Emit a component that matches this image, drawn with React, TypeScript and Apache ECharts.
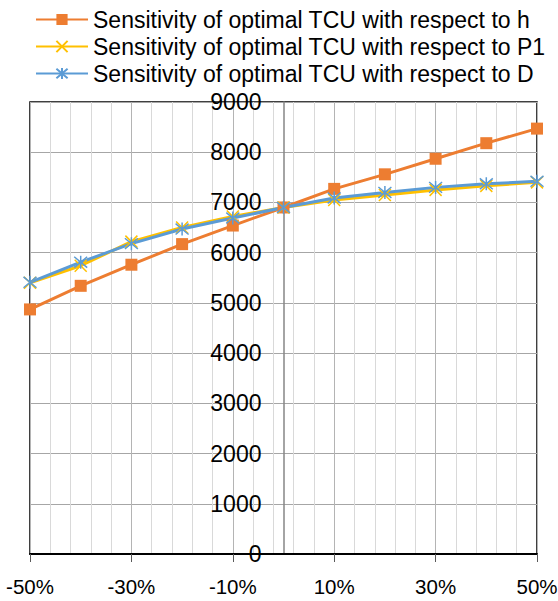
import React, { useEffect, useRef } from "react";
import * as echarts from "echarts";

const xValues = [-50, -40, -30, -20, -10, 0, 10, 20, 30, 40, 50];
const hValues = [4870, 5340, 5760, 6170, 6540, 6900, 7270, 7560, 7870, 8180, 8470];
const p1Values = [5400, 5740, 6220, 6500, 6720, 6900, 7050, 7150, 7250, 7330, 7400];
const dValues = [5410, 5810, 6180, 6470, 6690, 6900, 7090, 7200, 7300, 7370, 7420];
const seriesNames = [
  "Sensitivity of optimal TCU with respect to h",
  "Sensitivity of optimal TCU with respect to P1",
  "Sensitivity of optimal TCU with respect to D",
];

const FONT = "Liberation Sans";
const X_MARK = "path://M0,0L10,10M10,0L0,10";
const STAR_MARK = "path://M0,0L10,10M10,0L0,10M5,-1L5,11";

const GRID_LEFT = 30;
const GRID_RIGHT = 21;
const WIDTH = 558;
const HEIGHT = 601;

export default function App() {
  const ref = useRef<HTMLDivElement>(null);
  useEffect(() => {
    if (!ref.current) return;
    const chart = echarts.init(ref.current, undefined, { renderer: "svg" });
    const pair = (ys: number[]) => xValues.map((x, i) => [x, ys[i]]);
    const plotWidth = WIDTH - GRID_LEFT - GRID_RIGHT;
    chart.setOption({
      animation: false,
      textStyle: { fontFamily: FONT },
      legend: {
        orient: "vertical",
        left: 30,
        top: 3,
        itemWidth: 52,
        itemHeight: 14,
        itemGap: 4,
        textStyle: { fontFamily: FONT, fontSize: 23, color: "#000" },
        data: seriesNames,
      },
      grid: {
        left: GRID_LEFT,
        right: GRID_RIGHT,
        top: 102,
        bottom: 47,
        show: true,
        borderColor: "#000",
        borderWidth: 1.5,
        containLabel: false,
        outerBoundsMode: "none",
      },
      xAxis: {
        type: "value",
        min: -50,
        max: 50,
        interval: 20,
        axisLine: { onZero: false, lineStyle: { color: "#000", width: 2 } },
        axisTick: { show: true, length: 8, lineStyle: { color: "#595959", width: 1 } },
        axisLabel: {
          formatter: (v: number) => `${v}%`,
          fontFamily: FONT,
          fontSize: 20.5,
          color: "#000",
          margin: 22,
        },
        splitLine: { show: true, lineStyle: { color: "#b4b4b4", width: 1 } },
        minorTick: { show: false, splitNumber: 5 },
        minorSplitLine: { show: true, lineStyle: { color: "#d9d9d9", width: 1 } },
      },
      yAxis: {
        type: "value",
        min: 0,
        max: 9000,
        interval: 1000,
        position: "left",
        offset: -plotWidth / 2,
        axisLine: { show: true, onZero: false, lineStyle: { color: "#868686", width: 1.5 } },
        axisTick: { show: false },
        axisLabel: {
          formatter: (v: number) => String(v),
          fontFamily: FONT,
          fontSize: 23,
          color: "#000",
          margin: 22,
        },
        splitLine: { show: true, lineStyle: { color: "#a6a6a6", width: 1 } },
      },
      series: [
        {
          name: seriesNames[0],
          type: "line",
          data: pair(hValues),
          symbol: "rect",
          symbolSize: 12,
          lineStyle: { color: "#ED7D31", width: 3 },
          itemStyle: { color: "#ED7D31" },
        },
        {
          name: seriesNames[1],
          type: "line",
          data: pair(p1Values),
          symbol: X_MARK,
          symbolSize: 12,
          lineStyle: { color: "#FFC000", width: 3 },
          itemStyle: { color: "#FFC000", borderColor: "#FFC000", borderWidth: 1.5 },
        },
        {
          name: seriesNames[2],
          type: "line",
          data: pair(dValues),
          symbol: STAR_MARK,
          symbolSize: 13,
          lineStyle: { color: "#5B9BD5", width: 3 },
          itemStyle: { color: "#5B9BD5", borderColor: "#5B9BD5", borderWidth: 1.5 },
        },
      ],
    });
    return () => chart.dispose();
  }, []);
  return (
    <div
      ref={ref}
      style={{ position: "fixed", left: 0, top: 0, width: WIDTH, height: HEIGHT, background: "#fff" }}
    />
  );
}
